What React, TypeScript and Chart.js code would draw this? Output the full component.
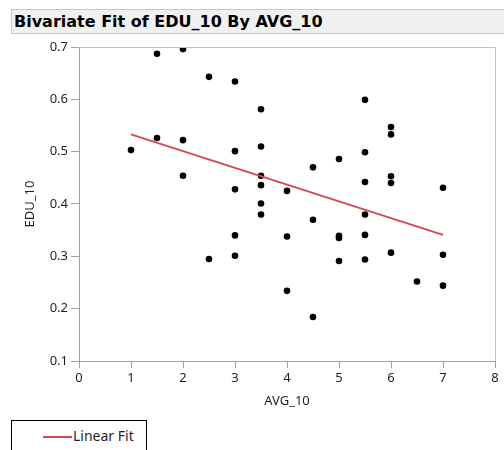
import React, { useEffect, useRef } from "react";
import { Chart, registerables } from "chart.js";

Chart.register(...registerables);

// AVG_10 / EDU_10 observations
const AVG_10 = [
  1,
  1.5, 1.5,
  2, 2, 2,
  2.5, 2.5,
  3, 3, 3, 3, 3,
  3.5, 3.5, 3.5, 3.5, 3.5, 3.5,
  4, 4, 4,
  4.5, 4.5, 4.5,
  5, 5, 5, 5,
  5.5, 5.5, 5.5, 5.5, 5.5, 5.5,
  6, 6, 6, 6, 6,
  6.5,
  7, 7, 7,
];
const EDU_10 = [
  0.503,
  0.687, 0.526,
  0.696, 0.522, 0.454,
  0.643, 0.295,
  0.634, 0.501, 0.428, 0.34, 0.301,
  0.581, 0.51, 0.454, 0.436, 0.401, 0.38,
  0.425, 0.338, 0.234,
  0.47, 0.37, 0.184,
  0.486, 0.339, 0.335, 0.291,
  0.599, 0.499, 0.442, 0.38, 0.341, 0.294,
  0.547, 0.533, 0.453, 0.44, 0.307,
  0.252,
  0.431, 0.303, 0.244,
];

// Linear fit end points
const FIT_X = [1, 7];
const FIT_Y = [0.533, 0.341];

const X_TICKS = [0, 1, 2, 3, 4, 5, 6, 7, 8];
const Y_TICKS = [0.1, 0.2, 0.3, 0.4, 0.5, 0.6, 0.7];

const FIT_COLOR = "rgb(214,72,84)";
const TEXT_COLOR = "#1e1e28";
const FONT = "'Noto Sans', 'DejaVu Sans', sans-serif";
const TITLE_FONT = "'DejaVu Sans', sans-serif";

const framePlugin = {
  id: "frame",
  afterDraw(chart: any) {
    const { ctx, chartArea } = chart;
    ctx.save();
    ctx.strokeStyle = "#c4c4c4";
    ctx.lineWidth = 1;
    ctx.beginPath();
    ctx.moveTo(chartArea.left, chartArea.top + 0.5);
    ctx.lineTo(chartArea.right + 0.5, chartArea.top + 0.5);
    ctx.lineTo(chartArea.right + 0.5, chartArea.bottom);
    ctx.stroke();
    ctx.restore();
  },
};

export default function App() {
  const ref = useRef<HTMLCanvasElement>(null);

  useEffect(() => {
    if (!ref.current) return;
    const points = AVG_10.map((x, i) => ({ x, y: EDU_10[i] }));
    const fit = FIT_X.map((x, i) => ({ x, y: FIT_Y[i] }));
    const chart = new Chart(ref.current, {
      type: "scatter",
      data: {
        datasets: [
          {
            label: "Linear Fit",
            type: "line",
            data: fit,
            borderColor: FIT_COLOR,
            borderWidth: 2,
            pointRadius: 0,
            fill: false,
            order: 0,
          } as any,
          {
            label: "EDU_10",
            data: points,
            backgroundColor: "#000",
            borderColor: "#000",
            pointRadius: 3.3,
            pointBorderWidth: 0,
            order: 1,
          },
        ],
      },
      options: {
        animation: false,
        responsive: false,
        maintainAspectRatio: false,
        layout: { padding: { left: 0, right: 9, top: 47, bottom: 39 } },
        plugins: { legend: { display: false }, tooltip: { enabled: false } },
        scales: {
          x: {
            type: "linear",
            min: 0,
            max: 8,
            afterBuildTicks: (s: any) => {
              s.ticks = X_TICKS.map((v) => ({ value: v }));
            },
            afterFit: (s: any) => {
              s.height = 50;
            },
            grid: {
              drawOnChartArea: false,
              drawTicks: true,
              tickLength: 7,
              color: "#a0a0a0",
            },
            border: { display: true, color: "#a0a0a0" },
            ticks: {
              color: TEXT_COLOR,
              font: { family: FONT, size: 13 },
              padding: 2,
              maxRotation: 0,
            },
            title: {
              display: true,
              text: "AVG_10",
              color: TEXT_COLOR,
              font: { family: FONT, size: 13 },
              padding: { top: 0, bottom: 2 },
            },
          },
          y: {
            type: "linear",
            min: 0.1,
            max: 0.7,
            afterBuildTicks: (s: any) => {
              s.ticks = Y_TICKS.map((v) => ({ value: v }));
            },
            afterFit: (s: any) => {
              s.width = 79;
            },
            grid: {
              drawOnChartArea: false,
              drawTicks: true,
              tickLength: 8,
              color: "#a0a0a0",
            },
            border: { display: true, color: "#a0a0a0" },
            ticks: {
              color: TEXT_COLOR,
              font: { family: FONT, size: 13 },
              padding: 3,
              callback: (v: any) => Number(v).toFixed(1),
            },
            title: {
              display: true,
              text: "EDU_10",
              color: TEXT_COLOR,
              font: { family: FONT, size: 13 },
              padding: { top: 22, bottom: 0 },
            },
          },
        },
      },
      plugins: [framePlugin],
    });
    return () => chart.destroy();
  }, []);

  return (
    <div style={{ position: "absolute", left: 0, top: 0, width: 504, height: 450, overflow: "hidden", background: "#fff" }}>
      <canvas ref={ref} width={504} height={450} style={{ position: "absolute", left: 0, top: 0 }} />
      <div
        style={{
          position: "absolute",
          left: 11,
          top: 9,
          width: 500,
          height: 25,
          background: "#f0f0f0",
          border: "1px solid #c8c8c8",
          boxSizing: "border-box",
          font: `bold 16px ${TITLE_FONT}`,
          color: "#000",
          lineHeight: "23px",
          paddingLeft: 2,
          whiteSpace: "nowrap",
        }}
      >
        Bivariate Fit of EDU_10 By AVG_10
      </div>
      <div
        style={{
          position: "absolute",
          left: 11,
          top: 420,
          width: 136,
          height: 40,
          border: "1px solid #000",
          boxSizing: "border-box",
          background: "#fff",
        }}
      >
        <div style={{ position: "absolute", left: 31, top: 15, width: 29, height: 2, background: FIT_COLOR }} />
        <div
          style={{
            position: "absolute",
            left: 61,
            top: 5,
            font: `14px ${FONT}`,
            color: TEXT_COLOR,
            whiteSpace: "nowrap",
          }}
        >
          Linear Fit
        </div>
      </div>
    </div>
  );
}
